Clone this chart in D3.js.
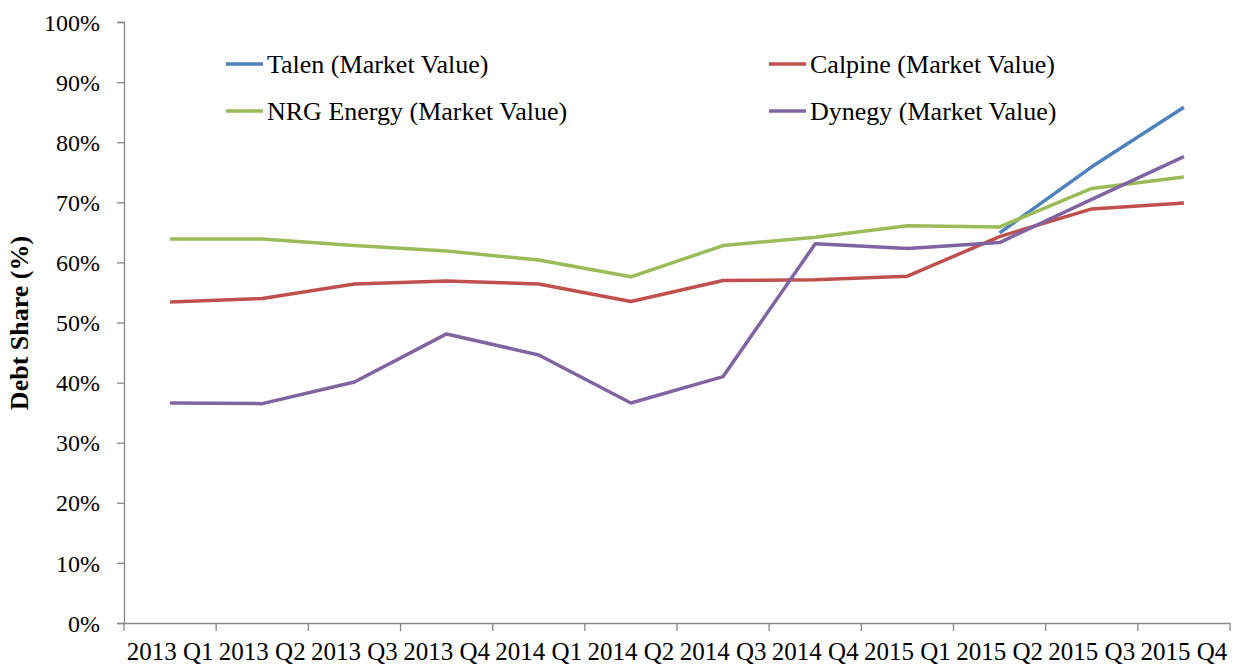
<!DOCTYPE html>
<html>
<head>
<meta charset="utf-8">
<script src="https://cdn.jsdelivr.net/npm/d3@7"></script>
<style>
  body { margin: 0; background: #fff; }
  text { font-family: "Liberation Serif", "Times New Roman", serif; fill: #000; }
</style>
</head>
<body>
<div id="chart"></div>
<script>
// categories
let quarters = ["2013 Q1", "2013 Q2", "2013 Q3", "2013 Q4",
                "2014 Q1", "2014 Q2", "2014 Q3", "2014 Q4",
                "2015 Q1", "2015 Q2", "2015 Q3", "2015 Q4"];

// series values (% debt share), null = no data
let talen   = [null, null, null, null, null, null, null, null, null, 64.9, 75.9, 85.8];
let calpine = [53.4, 54.0, 56.4, 56.9, 56.4, 53.5, 57.0, 57.1, 57.7, 64.3, 68.9, 69.9];
let nrg     = [63.9, 63.9, 62.8, 61.9, 60.4, 57.6, 62.8, 64.2, 66.1, 65.9, 72.3, 74.2];
let dynegy  = [36.6, 36.5, 40.1, 48.1, 44.6, 36.6, 41.0, 63.1, 62.3, 63.3, 70.5, 77.6];

let yTicks = [0, 10, 20, 30, 40, 50, 60, 70, 80, 90, 100];

let series = [
    {name: "Talen (Market Value)", values: talen, color: "#4F81BD"},
    {name: "Calpine (Market Value)", values: calpine, color: "#C0504D"},
    {name: "NRG Energy (Market Value)", values: nrg, color: "#9BBB59"},
    {name: "Dynegy (Market Value)", values: dynegy, color: "#8064A2"}
];

let width = 1239, height = 666;
let margin = {top: 22, right: 9, bottom: 43, left: 124};
let innerW = width - margin.left - margin.right,
    innerH = height - margin.top - margin.bottom;

let svg = d3.select("#chart").append("svg")
    .attr("width", width)
    .attr("height", height);

let g = svg.append("g")
    .attr("transform", "translate(" + margin.left + "," + margin.top + ")");

let x = d3.scaleBand().domain(quarters).range([0, innerW]);
let y = d3.scaleLinear().domain([0, 100]).range([innerH, 0]);

// y axis
let yAxis = g.append("g")
    .call(d3.axisLeft(y).tickValues(yTicks).tickSize(7).tickPadding(17).tickFormat(d => d + "%"));
yAxis.selectAll("text").style("font-size", "24px").attr("dy", "0.34em");

// x axis, ticks at band edges
let xAxis = g.append("g")
    .attr("transform", "translate(0," + innerH + ")")
    .call(d3.axisBottom(x).tickSize(0).tickPadding(19));
xAxis.selectAll("text").style("font-size", "25px");
xAxis.selectAll(".edge")
    .data(d3.range(quarters.length + 1))
    .enter().append("line")
    .attr("class", "edge")
    .attr("x1", i => i * x.bandwidth())
    .attr("x2", i => i * x.bandwidth())
    .attr("y1", 0).attr("y2", 8);

svg.selectAll(".domain, .tick line, .edge")
    .attr("stroke", "#868686").attr("stroke-width", 1.3);

// y title
svg.append("text")
    .attr("transform", "translate(28," + (margin.top + 301) + ") rotate(-90)")
    .attr("text-anchor", "middle")
    .style("font-size", "26px")
    .style("font-weight", "bold")
    .text("Debt Share (%)");

// lines
let line = d3.line()
    .defined(d => d !== null)
    .x((d, i) => x(quarters[i]) + x.bandwidth() / 2)
    .y(d => y(d));

series.forEach(s => {
    g.append("path")
        .datum(s.values)
        .attr("fill", "none")
        .attr("stroke", s.color)
        .attr("stroke-width", 3.5)
        .attr("stroke-linejoin", "round")
        .attr("d", line);
});

// legend
let legendPos = [[226, 64], [769, 64], [226, 111], [769, 111]];
series.forEach((s, i) => {
    let lg = svg.append("g")
        .attr("transform", "translate(" + legendPos[i][0] + "," + legendPos[i][1] + ")");
    lg.append("line")
        .attr("x1", 0).attr("x2", 37)
        .attr("stroke", s.color).attr("stroke-width", 3.5);
    lg.append("text")
        .attr("x", 41).attr("dy", "0.34em")
        .style("font-size", "26px")
        .text(s.name);
});
</script>
</body>
</html>
